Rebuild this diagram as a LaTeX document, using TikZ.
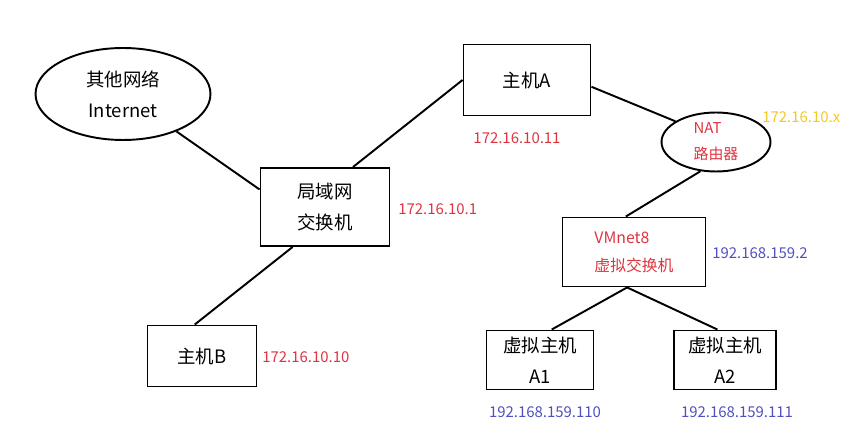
\documentclass[tikz,border=0pt]{standalone}
\usepackage{fontspec}
\setmainfont{Noto Sans CJK SC}
\usetikzlibrary{shapes.geometric}
\definecolor{ipred}{RGB}{222,52,64}
\definecolor{ipyellow}{RGB}{242,200,40}
\definecolor{ipblue}{RGB}{80,80,190}
\begin{document}
\begin{tikzpicture}[x=0.02cm,y=-0.02cm,
		box/.style={draw,line width=1.1pt,inner sep=0pt,align=center,
			font=\fontsize{10.5}{17.5}\selectfont},
		oval/.style={ellipse,draw,line width=1.1pt,inner sep=0pt,align=center},
		ip/.style={inner sep=0pt,font=\fontsize{8.5}{10}\selectfont},
		link/.style={line width=1.1pt}]
		\useasboundingbox (0,0) rectangle (858,448);
		% nodes
		\node[oval,minimum width=3.5cm,minimum height=1.84cm,
			font=\fontsize{10.5}{17.5}\selectfont](inet) at (123,94){其他网络\\Internet};
		\node[box,minimum width=2.58cm,minimum height=1.56cm](lan) at (325,207){局域网\\交换机};
		\node[box,minimum width=2.54cm,minimum height=1.42cm](hosta) at (527,80){主机A};
		\node[oval,minimum width=2.18cm,minimum height=1.18cm,text=ipred,align=left,
			font=\fontsize{8.5}{14.7}\selectfont](nat) at (716,142){NAT\\路由器};
		\node[box,minimum width=2.86cm,minimum height=1.38cm,text=ipred,align=left,
			font=\fontsize{9}{15.9}\selectfont](vm) at (634,252){VMnet8\\虚拟交换机};
		\node[box,minimum width=2.18cm,minimum height=1.22cm](hostb) at (202,356){主机B};
		\node[box,minimum width=2.14cm,minimum height=1.18cm](vma) at (540,360){虚拟主机\\A1};
		\node[box,minimum width=2.04cm,minimum height=1.18cm](vmb) at (725,360){虚拟主机\\A2};
		% addresses
		\node[ip,text=ipred,anchor=west](iplan) at (398,209){172.16.10.1};
		\node[ip,text=ipred](iphosta) at (517,138){172.16.10.11};
		\node[ip,text=ipyellow,anchor=west](ipnat) at (762,117){172.16.10.x};
		\node[ip,text=ipblue,anchor=west](ipvm) at (712,253){192.168.159.2};
		\node[ip,text=ipred,anchor=west](iphostb) at (262,357){172.16.10.10};
		\node[ip,text=ipblue](ipvma) at (545,412){192.168.159.110};
		\node[ip,text=ipblue](ipvmb) at (737,412){192.168.159.111};
		% links
		\draw[link] (inet.-35) -- (lan.165);
		\draw[link] (lan.55) -- (hosta.west);
		\draw[link] (lan.-129) -- (hostb.103);
		\draw[link] (hosta.-6) -- (nat.153);
		\draw[link] (nat.-118) -- (vm.103);
		\draw[link] (vm.-101) -- (vma.69);
		\draw[link] (vm.-101) -- (vmb.104);
	\end{tikzpicture}
\end{document}
